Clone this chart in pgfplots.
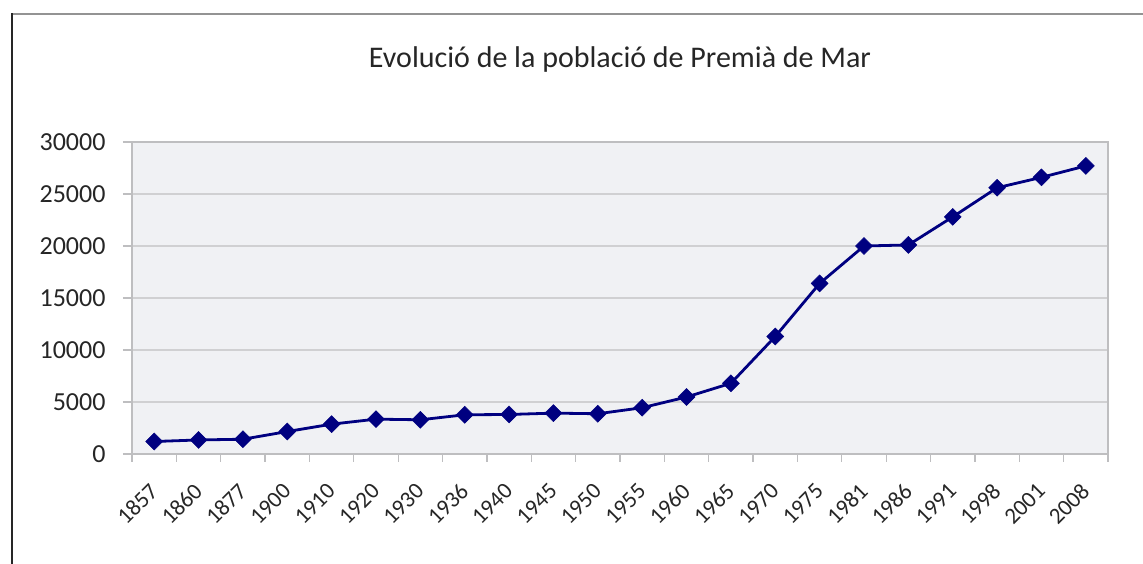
\documentclass[border=0pt]{standalone}
\usepackage{pgfplots}
\pgfplotsset{compat=1.18}
\usepackage{fontspec}
\setmainfont{Carlito}
\definecolor{bgplot}{HTML}{F0F1F4}
\definecolor{gridc}{HTML}{D0D0D2}
\definecolor{axc}{HTML}{BEBEC0}
\definecolor{txt}{HTML}{262626}
\definecolor{navyline}{HTML}{000080}
\pgfplotstableread{
i year pop
0.5 1857 1200
1.5 1860 1350
2.5 1877 1420
3.5 1900 2160
4.5 1910 2870
5.5 1920 3350
6.5 1930 3290
7.5 1936 3770
8.5 1940 3800
9.5 1945 3930
10.5 1950 3870
11.5 1955 4450
12.5 1960 5480
13.5 1965 6800
14.5 1970 11300
15.5 1975 16400
16.5 1981 20000
17.5 1986 20100
18.5 1991 22800
19.5 1998 25600
20.5 2001 26600
21.5 2008 27700
}\datatable
\begin{document}
\begin{tikzpicture}[x=1pt,y=1pt]
\path[use as bounding box] (0,0) rectangle (1143,564);
\draw[color=gray!85, line width=2pt] (12,549.5) -- (1143,549.5);
\draw[color=black!85, line width=1.5pt] (12,550.5) -- (12,0);
\node[font=\fontsize{30}{36}\selectfont, text=txt] at (620,504) {Evolució de la població de Premià de Mar};
\begin{axis}[
  at={(132pt,110pt)}, anchor=south west,
  scale only axis, width=976pt, height=312pt,
  xmin=0, xmax=22, ymin=0, ymax=30000,
  axis background/.style={fill=bgplot},
  axis line style={color=axc, line width=2pt},
  ymajorgrids, grid style={color=gridc, line width=1.6pt},
  ytick={0,5000,...,30000},
  scaled y ticks=false,
  xtick={0.5,1.5,...,21.5},
  xticklabels={1857,1860,1877,1900,1910,1920,1930,1936,1940,1945,1950,1955,1960,1965,1970,1975,1981,1986,1991,1998,2001,2008},
  minor xtick={0,1,...,22},
  tick align=outside,
  major x tick style={draw=none},
  minor tick length=8pt, major tick length=9pt,
  every tick/.style={color=axc, line width=1.3pt},
  xtick pos=bottom, ytick pos=left,
  /pgf/number format/1000 sep={},
  /pgf/number format/assume math mode=true,
  y tick label style={font=\fontsize{26}{30}\selectfont, text=txt, xshift=-14pt},
  x tick label style={font=\fontsize{23}{28}\selectfont, text=txt, rotate=45, anchor=east, yshift=-17pt, xshift=-14pt},
  clip=false,
]
\addplot[color=navyline, line width=2.8pt, mark=square*, mark size=6pt, mark options={rotate=45, fill=navyline, line width=0.5pt}] table[x=i, y=pop] {\datatable};
\end{axis}
\end{tikzpicture}
\end{document}
